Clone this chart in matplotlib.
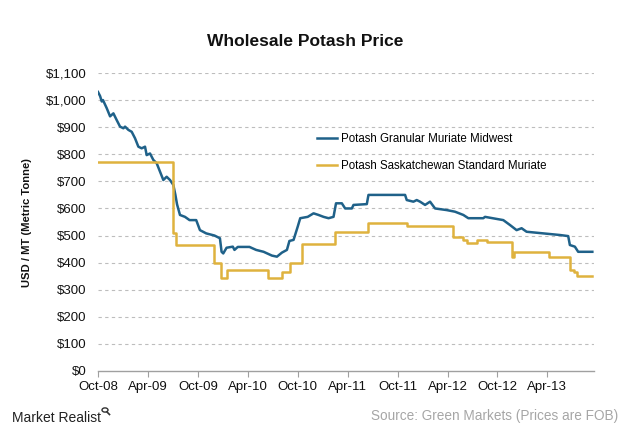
import matplotlib
matplotlib.use("Agg")
import matplotlib.pyplot as plt
from matplotlib.patches import Circle
from matplotlib.lines import Line2D

plt.rcParams['font.family'] = ['Liberation Sans', 'DejaVu Sans']

# x = months since Oct-2008
tick_months = [0, 6, 12, 18, 24, 30, 36, 42, 48, 54]
tick_labels = ["Oct-08", "Apr-09", "Oct-09", "Apr-10", "Oct-10", "Apr-11",
               "Oct-11", "Apr-12", "Oct-12", "Apr-13"]

granular_months = [0.0, 0.25, 0.45, 0.6, 1.05, 1.45, 1.85, 2.25, 2.65, 3.05, 3.25, 3.65,
                   4.05, 4.45, 4.85, 5.25, 5.65, 5.85, 6.25, 6.65, 7.05, 7.45, 7.85, 8.25,
                   8.65, 9.05, 9.3, 9.5, 9.85, 10.45, 11.0, 11.8, 12.25, 13.0, 14.0, 14.65,
                   14.85, 15.05, 15.45, 16.2, 16.4, 16.8, 18.2, 19.0, 19.9, 20.9, 21.5, 22.1,
                   22.7, 23.0, 23.5, 24.0, 24.3, 25.2, 25.9, 26.5, 27.1, 27.7, 28.3, 28.6,
                   29.3, 29.7, 30.5, 30.7, 32.3, 32.5, 36.9, 37.1, 37.9, 38.3, 38.7, 39.3,
                   39.9, 40.5, 41.9, 42.9, 43.9, 44.5, 46.3, 46.5, 48.7, 49.5, 50.3, 50.9,
                   51.5, 53.5, 55.5, 56.5, 56.7, 57.3, 57.7, 59.4]
granular_values = [1030, 1015, 995, 1000, 970, 940, 951, 926, 902, 896, 902, 890,
                   883, 859, 828, 822, 828, 797, 803, 779, 767, 736, 705, 717,
                   705, 687, 650, 615, 576, 569, 557, 557, 520, 508, 500, 490,
                   440, 434, 455, 459, 447, 458, 458, 447, 440, 426, 422, 437,
                   447, 480, 484, 533, 564, 569, 582, 576, 569, 564, 569, 619,
                   619, 600, 600, 613, 616, 650, 650, 631, 625, 631, 625, 613,
                   625, 600, 594, 588, 576, 564, 564, 569, 557, 539, 520, 527,
                   514, 508, 502, 498, 465, 459, 440, 440]

sask_months = [0, 9.0, 9.35, 13.95, 14.75, 15.45, 20.45, 22.1, 23.1, 24.5, 28.5, 32.5,
               37.1, 42.7, 43.9, 44.3, 45.5, 46.7, 49.7, 49.95, 54.2, 56.7, 57.2, 57.5, 59.4]
sask_values = [770, 510, 465, 398, 343, 373, 343, 365, 400, 470, 514, 545,
               535, 496, 484, 471, 484, 477, 422, 438, 422, 373, 367, 352, 352]

y_ticks = list(range(0, 1101, 100))

blue = "#1f6189"
gold = "#dfb23e"

fig = plt.figure(figsize=(6.2, 4.32), dpi=100)
ax = fig.add_axes([98/620, 61/432, 496/620, 298/432])

ax.plot(granular_months, granular_values, color=blue, lw=1.8,
        label="Potash Granular Muriate Midwest")
ax.plot(sask_months, sask_values, color=gold, lw=1.8, drawstyle="steps-post",
        label="Potash Saskatchewan Standard Muriate")

ax.set_xlim(0, 59.6)
ax.set_ylim(0, 1100)
ax.set_yticks(y_ticks)
ax.set_yticklabels(["${:,}".format(v) for v in y_ticks])
ax.set_xticks(tick_months)
ax.set_xticklabels(tick_labels)

for v in y_ticks[1:]:
    ax.axhline(v, color="#bdbdbd", lw=0.8, ls=(0, (3, 3)), zorder=0)

for s in ["top", "right", "left"]:
    ax.spines[s].set_visible(False)
ax.spines["bottom"].set_color("#a0a0a0")
ax.spines["bottom"].set_linewidth(1.0)
ax.tick_params(axis="y", length=0, pad=8, labelsize=9.5, labelcolor="#111111")
ax.tick_params(axis="x", direction="out", length=4, color="#a0a0a0", pad=3,
               labelsize=9.5, labelcolor="#111111")

ax.set_ylabel("USD / MT (Metric Tonne)", fontsize=8.1, fontweight="bold",
              color="#111111", va="center")
ax.yaxis.set_label_coords((27 - 98) / 496, (371 - 223) / 298)

leg = ax.legend(loc="upper left", bbox_to_anchor=((312-98)/496, (371-128)/298),
                frameon=False, fontsize=8.3, handlelength=1.8, handletextpad=0.3,
                labelspacing=1.35, borderaxespad=0)

fig.text(305/620, 1 - 42/432, "Wholesale Potash Price", ha="center", va="center",
         fontsize=12.5, fontweight="bold", color="#111111")

mr = fig.text(12/620, 1 - 418/432, "Market Realist", ha="left", va="center",
              fontsize=10, color="#222222")
fig.canvas.draw()
bb = mr.get_window_extent(fig.canvas.get_renderer())
x_end = bb.x1 / 620
# small magnifier icon after the text
cx, cy = x_end + 4/620, 1 - 410/432
fig.patches.append(Circle((cx, cy), 3/620, transform=fig.transFigure,
                          fill=False, ec="#333333", lw=1.0))
fig.lines.append(Line2D([cx + 2/620, cx + 4.5/620], [cy - 2/432, cy - 4.5/432],
                        transform=fig.transFigure, color="#333333", lw=1.2))

fig.text(618/620, 1 - 416/432, "Source: Green Markets (Prices are FOB)", ha="right",
         va="center", fontsize=9.8, color="#a6a6a6")

fig.savefig("out.png", dpi=100)
